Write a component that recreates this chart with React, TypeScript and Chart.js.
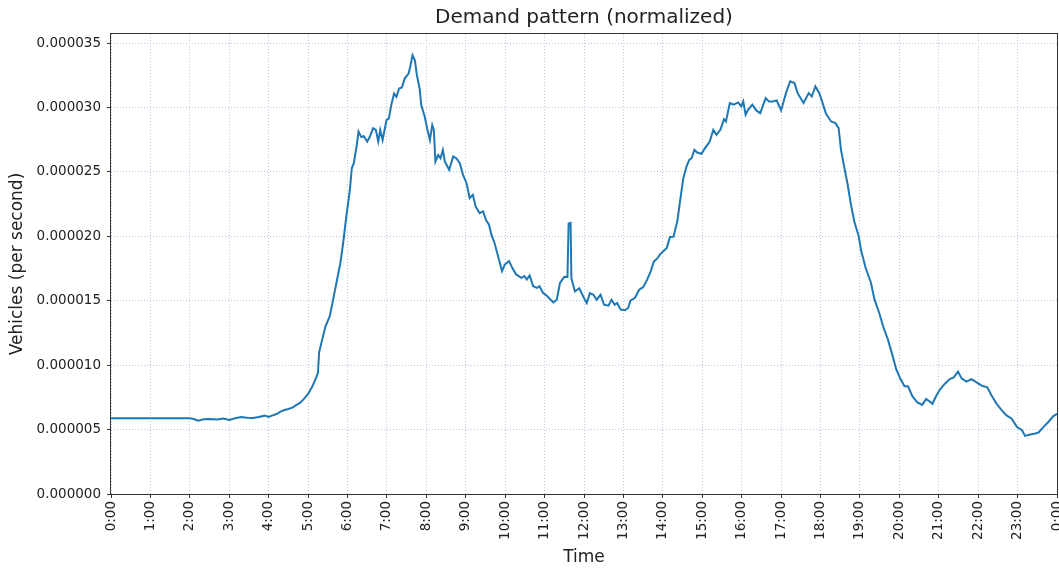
import React, { useEffect, useRef } from "react";
import { Chart, registerables } from "chart.js";

Chart.register(...registerables);

// Time of day in hours
const hours: number[] = [
  0, 1, 2, 2.1, 2.21, 2.35, 2.5, 2.7, 2.85, 3.0, 3.15, 3.3, 3.45, 3.6, 3.75, 3.9, 4.0, 4.1, 4.2, 4.3, 4.4, 4.5, 4.6, 4.7, 4.8, 4.9,
  5.0, 5.1, 5.2, 5.25, 5.28, 5.36, 5.44, 5.55, 5.62, 5.72, 5.82, 5.89, 5.97, 6.06, 6.11, 6.16, 6.23, 6.28, 6.35, 6.41, 6.5, 6.56,
  6.65, 6.72, 6.78, 6.83, 6.89, 6.99, 7.05, 7.11, 7.18, 7.24, 7.31, 7.38, 7.45, 7.55, 7.6, 7.65, 7.71, 7.76, 7.83, 7.87, 7.96,
  8.02, 8.09, 8.15, 8.19, 8.23, 8.3, 8.36, 8.42, 8.47, 8.58, 8.68, 8.76, 8.85, 8.93, 9.02, 9.1, 9.18, 9.25, 9.35, 9.44, 9.51,
  9.59, 9.65, 9.73, 9.82, 9.92, 9.99, 10.1, 10.18, 10.28, 10.41, 10.49, 10.55, 10.62, 10.71, 10.81, 10.87, 10.96, 11.07, 11.22,
  11.31, 11.39, 11.5, 11.58, 11.61, 11.66, 11.68, 11.77, 11.88, 11.98, 12.07, 12.15, 12.24, 12.32, 12.42, 12.51, 12.62, 12.7,
  12.78, 12.84, 12.93, 13.04, 13.12, 13.18, 13.29, 13.4, 13.5, 13.6, 13.69, 13.77, 13.86, 13.93, 14.1, 14.18, 14.27, 14.37,
  14.44, 14.52, 14.6, 14.67, 14.73, 14.8, 14.87, 14.98, 15.07, 15.19, 15.28, 15.36, 15.46, 15.55, 15.6, 15.7, 15.8, 15.91,
  15.99, 16.04, 16.1, 16.16, 16.27, 16.37, 16.47, 16.61, 16.69, 16.79, 16.89, 17.0, 17.13, 17.23, 17.34, 17.42, 17.57, 17.7,
  17.78, 17.87, 17.97, 18.04, 18.14, 18.27, 18.38, 18.46, 18.52, 18.6, 18.69, 18.77, 18.86, 18.97, 19.03, 19.15, 19.28, 19.37,
  19.49, 19.6, 19.71, 19.83, 19.92, 20.03, 20.13, 20.22, 20.33, 20.45, 20.58, 20.68, 20.77, 20.84, 20.94, 21.04, 21.15, 21.28,
  21.38, 21.49, 21.58, 21.7, 21.83, 21.96, 22.09, 22.23, 22.34, 22.47, 22.6, 22.72, 22.85, 22.98, 23.11, 23.19, 23.32, 23.45,
  23.53, 23.66, 23.78, 23.91, 24.0,
];

// Vehicles per second, in units of 1e-6
const demandMicro: number[] = [
  5.88, 5.88, 5.88, 5.82, 5.69, 5.8, 5.82, 5.78, 5.85, 5.75, 5.88, 5.98, 5.92, 5.9, 5.98, 6.08, 5.98, 6.1, 6.21, 6.4, 6.52, 6.6, 6.7, 6.9, 7.09, 7.4,
  7.76, 8.3, 9.0, 9.4, 11.0, 12.0, 13.0, 13.8, 14.85, 16.4, 17.94, 19.5, 21.55, 23.6, 25.3, 25.67, 26.96, 28.12, 27.7, 27.78, 27.35, 27.68,
  28.38, 28.25, 27.35, 28.25, 27.47, 29.02, 29.15, 30.18, 31.08, 30.82, 31.47, 31.55, 32.24, 32.63, 33.27, 34.05, 33.66, 32.5, 31.47, 30.18, 29.28,
  28.38, 27.47, 28.63, 28.25, 25.8, 26.31, 26.06, 26.7, 25.8, 25.15, 26.19, 26.06, 25.67, 24.77, 24.12, 22.96, 23.22, 22.32, 21.8, 21.93, 21.29,
  20.9, 20.13, 19.48, 18.45, 17.29, 17.81, 18.07, 17.55, 17.04, 16.78, 16.91, 16.65, 16.96, 16.13, 16.0, 16.13, 15.62, 15.34, 14.87,
  15.08, 16.38, 16.85, 16.84, 21.0, 21.05, 16.74, 15.72, 15.97, 15.33, 14.82, 15.59, 15.46, 15.08, 15.46, 14.69, 14.62, 15.08,
  14.69, 14.82, 14.31, 14.26, 14.44, 15.03, 15.21, 15.85, 16.05, 16.62, 17.26, 18.03, 18.28, 18.6, 19.1, 19.95, 19.97, 21.2,
  22.8, 24.5, 25.41, 25.93, 26.06, 26.71, 26.5, 26.4, 26.84, 27.36, 28.26, 27.88, 28.26, 29.09, 28.91, 30.34, 30.21, 30.39,
  30.08, 30.47, 29.43, 29.82, 30.21, 29.77, 29.56, 30.73, 30.47, 30.47, 30.54, 29.77, 31.17, 32.02, 31.89, 31.11, 30.34, 31.11,
  30.85, 31.63, 31.11, 30.47, 29.51, 28.91, 28.78, 28.39, 26.71, 25.41, 24.0, 22.5, 21.1, 20.0, 18.9, 17.5, 16.4, 15.08,
  14.05, 12.9, 12.0, 10.72, 9.69, 8.92, 8.36, 8.36, 7.59, 7.13, 6.92, 7.38, 7.18, 7.0, 7.64, 8.15, 8.54, 8.92,
  9.05, 9.49, 8.97, 8.72, 8.92, 8.67, 8.41, 8.28, 7.64, 7.0, 6.49, 6.1, 5.85, 5.21, 4.95, 4.51, 4.62, 4.69,
  4.77, 5.21, 5.59, 6.05, 6.23,
];

const yTickStep = 0.000005;
const yMax = 0.0000357;
const xMin = 0;
const xMax = 24;
const chartTitle = "Demand pattern (normalized)";

const TEXT = "#222222";
const FONT = "'DejaVu Sans', sans-serif";
const GRID = "rgba(176,196,222,0.9)";

const framePlugin = {
  id: "frame",
  afterDraw(chart: any) {
    const { ctx, chartArea } = chart;
    ctx.save();
    ctx.strokeStyle = "#333333";
    ctx.lineWidth = 1;
    ctx.strokeRect(
      Math.round(chartArea.left) - 0.5,
      Math.round(chartArea.top) - 0.5,
      Math.round(chartArea.right - chartArea.left) + 1,
      Math.round(chartArea.bottom - chartArea.top) + 1
    );
    ctx.fillStyle = TEXT;
    ctx.font = `20px ${FONT}`;
    ctx.textAlign = "center";
    ctx.textBaseline = "middle";
    ctx.fillText(chartTitle, (chartArea.left + chartArea.right) / 2, 18);
    ctx.restore();
  },
};

export default function App() {
  const ref = useRef<HTMLCanvasElement | null>(null);

  useEffect(() => {
    document.body.style.margin = "0";
    const canvas = ref.current;
    if (!canvas) return;
    const points = hours.map((h, i) => ({ x: h, y: demandMicro[i] * 1e-6 }));
    const chart = new Chart(canvas, {
      type: "line",
      data: {
        datasets: [
          {
            data: points,
            borderColor: "#1f77b4",
            borderWidth: 2,
            pointRadius: 0,
            tension: 0,
            fill: false,
          },
        ],
      },
      options: {
        responsive: false,
        animation: false,
        devicePixelRatio: 1,
        layout: { padding: { left: 0, right: 2, top: 34, bottom: 0 } },
        plugins: {
          legend: { display: false },
          tooltip: { enabled: false },
          title: { display: false },
        },
        scales: {
          x: {
            type: "linear",
            min: xMin,
            max: xMax,
            afterFit: (s: any) => {
              s.height = 76;
              s.paddingLeft = 0;
              s.paddingRight = 0;
            },
            ticks: {
              stepSize: 1,
              autoSkip: false,
              minRotation: 90,
              maxRotation: 90,
              padding: 3,
              color: TEXT,
              font: { family: FONT, size: 13.5 },
              callback: (v: any) => `${Number(v) % 24}:00`,
            },
            grid: {
              color: GRID,
              lineWidth: 1,
              tickColor: "#333333",
              tickLength: 4,
              tickBorderDash: [],
              borderDash: [1, 2],
            } as any,
            border: { display: false, dash: [1, 2] },
            title: {
              display: true,
              text: "Time",
              color: TEXT,
              font: { family: FONT, size: 17 },
              padding: { top: 0, bottom: 2 },
            },
          },
          y: {
            type: "linear",
            min: 0,
            max: yMax,
            afterFit: (s: any) => {
              s.width = 111;
              s.paddingTop = 0;
              s.paddingBottom = 0;
            },
            ticks: {
              stepSize: yTickStep,
              includeBounds: false,
              padding: 6,
              color: TEXT,
              font: { family: FONT, size: 13.5 },
              callback: (v: any) => Number(v).toFixed(6),
            },
            grid: {
              color: GRID,
              lineWidth: 1,
              tickColor: "#333333",
              tickLength: 4,
              tickBorderDash: [],
              borderDash: [1, 2],
            } as any,
            border: { display: false, dash: [1, 2] },
            title: {
              display: true,
              text: "Vehicles (per second)",
              color: TEXT,
              font: { family: FONT, size: 17 },
              padding: { top: 7, bottom: 0 },
            },
          },
        },
      },
      plugins: [framePlugin],
    });
    return () => chart.destroy();
  }, []);

  return (
    <div style={{ width: 1059, height: 570 }}>
      <canvas ref={ref} width={1059} height={570} style={{ display: "block" }} />
    </div>
  );
}
